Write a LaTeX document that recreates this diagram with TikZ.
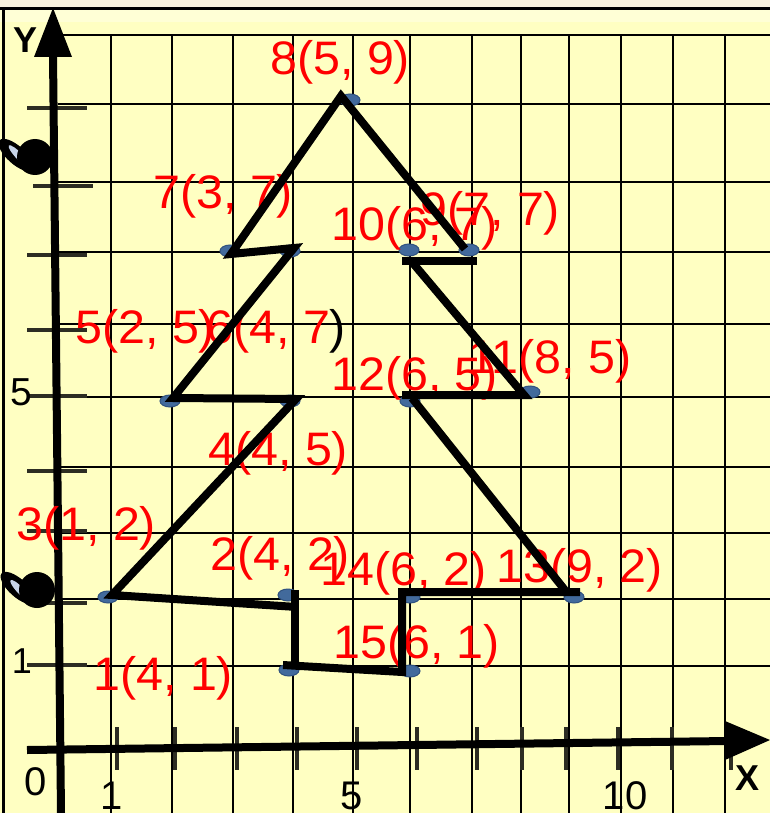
\documentclass[tikz,border=0pt]{standalone}
\usepackage{fontspec}
\setmainfont{Liberation Sans}
\newfontfamily\labfont[FakeStretch=1.03]{Liberation Sans}
\usetikzlibrary{shapes.geometric}
\definecolor{paper}{RGB}{255,255,194}
\definecolor{paperlight}{RGB}{255,255,214}
\definecolor{cream}{RGB}{250,243,222}
\definecolor{tickc}{RGB}{45,45,35}
\definecolor{dotc}{RGB}{66,106,156}
\definecolor{dotd}{RGB}{48,82,128}
\definecolor{tailc}{RGB}{200,212,232}
\begin{document}
\begin{tikzpicture}[x=1pt,y=-1pt,
  gridline/.style={line width=1.8pt, black},
  tickmark/.style={line width=4pt, tickc},
  axisline/.style={line width=8pt, black},
  tree/.style={line width=8pt, black, line join=miter},
  dotn/.style={ellipse, minimum width=20pt, minimum height=12pt, inner sep=0pt, fill=dotc, draw=dotd, line width=1pt},
  lab/.style={text=red, font=\labfont\fontsize{47}{54}\selectfont, anchor=base west, inner sep=0pt},
  axnum/.style={text=black, font=\fontsize{40}{48}\selectfont, anchor=base, inner sep=0pt},
  axname/.style={text=black, font=\bfseries\fontsize{36}{42}\selectfont, anchor=base, inner sep=0pt}]
\useasboundingbox (0,0) rectangle (770,813);
\clip (0,0) rectangle (770,813);
% paper
\fill[paper] (0,0) rectangle (770,813);
\fill[paperlight] (0,10) rectangle (770,22);
\fill[cream] (0,0) rectangle (770,8);
\draw[line width=3pt] (0,9) -- (770,9);
\draw[line width=3pt] (3,9) -- (3,813);
% grid
\foreach \gx in {111,172,233,293,353,410,472,521,569,621,673,725}
  \draw[gridline] (\gx,35) -- (\gx,813);
\foreach \gy in {35,104,182,252,324,397,467,533,599,666}
  \draw[gridline] (58,\gy) -- (770,\gy);
% y ticks
\foreach \ty in {108,255,330,396,471,531,603,665}
  \draw[tickmark] (27,\ty) -- (87,\ty);
\draw[tickmark] (33,186) -- (93,186);
% x ticks
\foreach \tx in {117,175,237,297,357,417,477,522,566,618,672,731}
  \draw[tickmark] (\tx,727) -- (\tx,770);
% binder rings
\fill[black, rotate around={-42:(16,155)}] (16,155) ellipse [x radius=22, y radius=9];
\fill[tailc, rotate around={-46:(20,157)}] (20,157) ellipse [x radius=16, y radius=3.5];
\fill[black] (35,157) circle [radius=18];
\fill[black, rotate around={-42:(18,588)}] (18,588) ellipse [x radius=22, y radius=9];
\fill[tailc, rotate around={-46:(21,591)}] (21,591) ellipse [x radius=15, y radius=3.5];
\fill[black] (37,590) circle [radius=18];
% axes
\coordinate (yb) at (61,813);
\coordinate (yt) at (53,55);
\coordinate (xl) at (27,750);
\coordinate (xr) at (728,741);
\draw[axisline] (yb) -- (yt);
\fill[black] (53,8) -- (72,57) -- (34,57) -- cycle;
\draw[axisline] (xl) -- (xr);
\fill[black] (770,740) -- (725,721) -- (725,760) -- cycle;
\node[axname] (ylab) at (26,53) {Y};
\node[axname] (xlab) at (747,790) {X};
\node[axnum] (n0) at (36,795) {0};
\node[axnum] (nx1) at (112,809) {1};
\node[axnum] (nx5) at (352,809) {5};
\node[axnum] (nx10) at (625,809) {10};
\node[axnum, font=\fontsize{36}{42}\selectfont] (ny1) at (22,673) {1};
\node[axnum, font=\fontsize{39}{46}\selectfont] (ny5) at (21,405) {5};
% points
\node[dotn] (p8) at (350,100) {};
\node[dotn] (p7) at (230,251) {};
\node[dotn] (p6) at (290,251) {};
\node[dotn] (p10) at (409,250) {};
\node[dotn] (p9) at (469,250) {};
\node[dotn] (p5) at (170,401) {};
\node[dotn] (p4) at (290,401) {};
\node[dotn] (p12) at (410,401) {};
\node[dotn] (p11) at (530,392) {};
\node[dotn] (p3) at (108,597) {};
\node[dotn] (p2) at (288,595) {};
\node[dotn] (p14) at (410,597) {};
\node[dotn] (p13) at (574,597) {};
\node[dotn] (p1) at (289,670) {};
\node[dotn] (p15) at (410,671) {};
% labels
\node[lab] (l8) at (270,75) {8(5, 9)};
\node[lab] (l7) at (153,208) {7(3, 7)};
\node[lab] (l10) at (331,240) {10(6, 7)};
\node[lab] (l9) at (420,225) {9(7, 7)};
\node[lab] (l5) at (75,343) {5(2, 5)};
\node[lab] (l6) at (206,343) {6(4, 7\textcolor{black}{)}};
\node[lab] (l12) at (331,390) {12(6, 5)};
\node[lab] (l11) at (468,373) {11(8, 5)};
\node[lab] (l4) at (208,465) {4(4, 5)};
\node[lab] (l3) at (16,540) {3(1, 2)};
\node[lab] (l2) at (210,570) {2(4, 2)};
\node[lab] (l14) at (320,585) {14(6, 2)};
\node[lab] (l13) at (496,582) {13(9, 2)};
\node[lab] (l15) at (333,658) {15(6, 1)};
\node[lab] (l1) at (93,690) {1(4, 1)};
% tree outline
\coordinate (a9) at (465,249);
\coordinate (a8) at (341,96);
\coordinate (a7) at (231,254);
\coordinate (a6) at (294,248);
\coordinate (a5) at (173,398);
\coordinate (a4) at (296,399);
\coordinate (a3) at (112,595);
\coordinate (a2) at (297,607);
\coordinate (v2) at (295,590);
\coordinate (v1) at (295,668);
\coordinate (a1) at (283,665);
\coordinate (a15) at (402,672);
\coordinate (a14) at (402,592);
\coordinate (a13) at (580,592);
\coordinate (d13) at (568,594);
\coordinate (d12) at (412,398);
\coordinate (h12) at (402,395);
\coordinate (a11) at (524,395);
\coordinate (c10) at (412,262);
\coordinate (b10) at (402,261);
\coordinate (b9) at (477,261);
\draw[tree] (a9) -- (a8) -- (a7) -- (a6) -- (a5) -- (a4) -- (a3) -- (a2);
\draw[tree] (v2) -- (v1);
\draw[tree] (a13) -- (a14) -- (a15) -- (a1);
\draw[tree] (d13) -- (d12);
\draw[tree] (c10) -- (a11) -- (h12);
\draw[tree] (b10) -- (b9);
\end{tikzpicture}
\end{document}
